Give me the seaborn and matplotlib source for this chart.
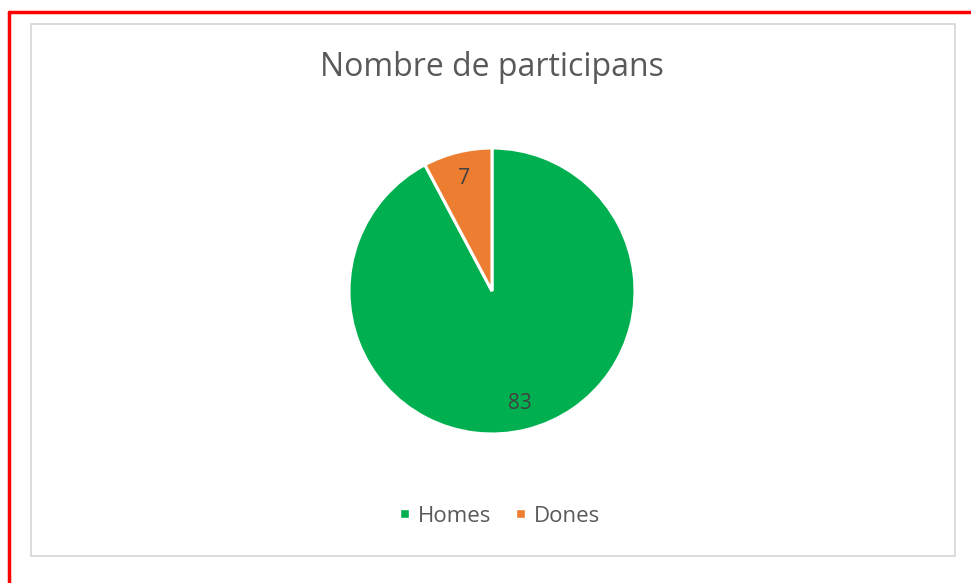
import seaborn as sns
import matplotlib.pyplot as plt
from matplotlib.patches import Rectangle
from matplotlib.lines import Line2D

categories = ["Homes", "Dones"]
values = [83, 7]
colors = ["#00B050", "#ED7D31"]
title = "Nombre de participans"

sns.set_theme(style="white")
plt.rcParams['font.family'] = ['Open Sans', 'DejaVu Sans']

fig = plt.figure(figsize=(9.71, 5.83), dpi=100)
W, H = 971, 583

# outer red frame (top and left visible) and gray chart border
fig.add_artist(Line2D([8.5 / W, 8.5 / W], [0, 1 - 11.5 / H], color="#FF0000", lw=2.5,
                      transform=fig.transFigure))
fig.add_artist(Line2D([8.5 / W, 1], [1 - 11.5 / H, 1 - 11.5 / H], color="#FF0000", lw=2.5,
                      transform=fig.transFigure))
fig.add_artist(Rectangle((31 / W, 1 - 556 / H), (955 - 31) / W, (556 - 24) / H,
                         fill=False, edgecolor="#D9D9D9", lw=1.3, transform=fig.transFigure))

# pie axes: center (492, 291), radius ~143 px
r = 143
ax = fig.add_axes([(492 - r) / W, 1 - (291 + r) / H, 2 * r / W, 2 * r / H])
wedges, texts = ax.pie(values, colors=colors, startangle=90, counterclock=False,
                       labels=[str(v) for v in values], labeldistance=0.81,
                       wedgeprops=dict(edgecolor="white", linewidth=2.2),
                       textprops=dict(color="#404040", fontsize=15))
for t in texts:
    t.set_horizontalalignment("center")
    t.set_verticalalignment("center")
ax.set_aspect("equal")
ax.set_xlim(-1, 1)
ax.set_ylim(-1, 1)

fig.text(492 / W, 1 - 68 / H, title, ha="center", va="center", fontsize=23, color="#595959")

handles = [Rectangle((0, 0), 1, 1, facecolor=c) for c in colors]
fig.legend(handles, categories, loc="center", bbox_to_anchor=(500 / W, 1 - 516 / H),
           ncol=2, frameon=False, fontsize=16, handlelength=0.4, handleheight=0.25,
           handletextpad=0.4, columnspacing=1.1, labelcolor="#595959")

plt.savefig("out.png", dpi=100)
plt.close()
